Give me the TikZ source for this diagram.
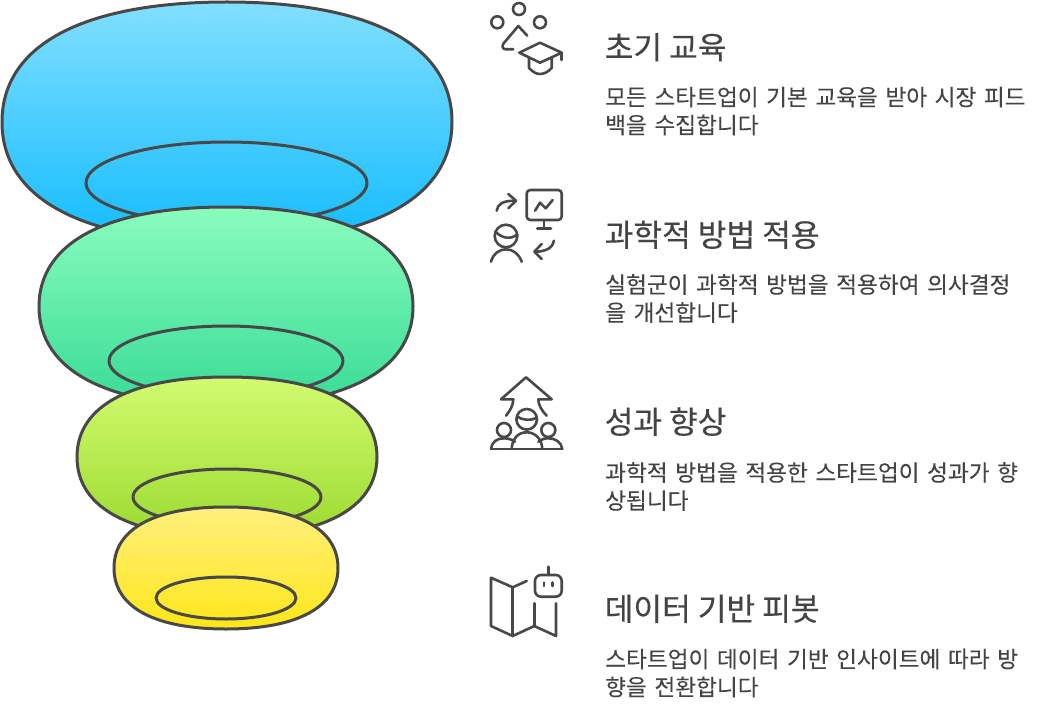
\documentclass[tikz,border=0pt]{standalone}
\usepackage{fontspec}
\setmainfont{Noto Sans CJK KR}
\newfontfamily\ttlfont[FakeBold=0.3]{Noto Sans CJK KR}
\newfontfamily\dscfont[FakeBold=0.12]{Noto Sans CJK KR}
\definecolor{ink}{HTML}{484848}
\definecolor{txt}{HTML}{444444}
\definecolor{b1}{HTML}{82DFFF}\definecolor{b2}{HTML}{14BCFF}
\definecolor{g1}{HTML}{8AFCBE}\definecolor{g2}{HTML}{38DB96}
\definecolor{l1}{HTML}{D2FB70}\definecolor{l2}{HTML}{9CDA30}
\definecolor{y1}{HTML}{FFF07E}\definecolor{y2}{HTML}{FFE618}
\tikzset{x=1pt,y=-1pt,
 outl/.style={draw=ink,line width=3pt,line join=round},
 ico/.style={draw=ink,line width=2.6pt,line cap=round,line join=round},
 ttl/.style={anchor=base west,inner sep=0pt,text=txt,font=\ttlfont\fontsize{31.2}{34}\selectfont},
 dsc/.style={anchor=base west,inner sep=0pt,text=txt,align=left,font=\dscfont\fontsize{22.65}{28}\selectfont,text width=430pt}}
\newcommand{\blobpath}[4]{(#1-#3,#2) .. controls (#1-#3,#2-0.66*#4) and (#1-0.62*#3,#2-#4) .. (#1,#2-#4) .. controls (#1+0.62*#3,#2-#4) and (#1+#3,#2-0.66*#4) .. (#1+#3,#2) .. controls (#1+#3,#2+0.66*#4) and (#1+0.62*#3,#2+#4) .. (#1,#2+#4) .. controls (#1-0.62*#3,#2+#4) and (#1-#3,#2+0.66*#4) .. (#1-#3,#2) -- cycle}
\begin{document}
\begin{tikzpicture}
\useasboundingbox (0,0) rectangle (1044,714);
% funnel
\path[outl,top color=b1,bottom color=b2] \blobpath{227}{122}{225}{120};
\draw[outl] (226.5,183) ellipse [x radius=140.5,y radius=41];
\path[outl,top color=g1,bottom color=g2] \blobpath{226}{306.5}{187}{99.5};
\draw[outl] (226,361) ellipse [x radius=117,y radius=35];
\path[outl,top color=l1,bottom color=l2] \blobpath{227}{457}{150}{80};
\draw[outl] (227,497) ellipse [x radius=94,y radius=28];
\path[outl,top color=y1,bottom color=y2] \blobpath{226}{568}{112}{61};
\draw[outl] (226,598) ellipse [x radius=70,y radius=21];
% text
\node[ttl] (t1) at (604.5,59) {초기 교육};
\node[dsc] (d1) at (605,105.5) {모든 스타트업이 기본 교육을 받아 시장 피드\\백을 수집합니다};
\node[ttl] (t2) at (604.5,246.5) {과학적 방법 적용};
\node[dsc] (d2) at (605,293) {실험군이 과학적 방법을 적용하여 의사결정\\을 개선합니다};
\node[ttl] (t3) at (604.5,433.5) {성과 향상};
\node[dsc] (d3) at (605,481) {과학적 방법을 적용한 스타트업이 성과가 향\\상됩니다};
\node[ttl] (t4) at (604.5,620.5) {데이터 기반 피봇};
\node[dsc] (d4) at (605,667.5) {스타트업이 데이터 기반 인사이트에 따라 방\\향을 전환합니다};
% icon 1: cap and circles
\draw[ico] (519,9) circle (6) (497.3,22.3) circle (6) (540,22.3) circle (6);
\draw[ico] (527.3,35.7) -- (518.3,26) -- (503.5,43.5) .. controls (501.5,46.5) and (502.5,49.3) .. (506,49.3) -- (513.3,49.3);
\draw[ico] (519.3,52.7) -- (540,42.7) -- (561.7,52.7) -- (540,62.7) -- cycle;
\draw[ico] (561.7,52.7) -- (561.7,60);
\draw[ico] (529,57.5) -- (529,68) .. controls (533,72) and (536,74) .. (540,74) .. controls (544,74) and (548,72) .. (551.7,68) -- (551.7,57.5);
% icon 2: person and chart
\draw[ico] (496.7,210.7) .. controls (497.5,204) and (503,200.7) .. (515,200.7);
\draw[ico] (508.3,194) -- (516,200.7) -- (508.3,208.3);
\draw[ico,rounded corners=3.5pt] (526.7,190) rectangle (561.7,220);
\draw[ico] (544,220) -- (544,228.3) (537.3,228.3) -- (551,228.3);
\draw[ico] (535,210.7) -- (540,202.7) -- (545.7,208.3) -- (552.7,200);
\draw[ico] (506,236) circle (11.3);
\draw[ico] (495.7,232) .. controls (502,238) and (510,240) .. (517.3,234.5);
\draw[ico] (491,261.7) .. controls (493,254) and (499,249.3) .. (506,249.3) .. controls (513,249.3) and (519,254) .. (521.7,261.7);
\draw[ico] (554,240.7) .. controls (553,247) and (547,251.7) .. (535,251.7);
\draw[ico] (541.7,244) -- (534.3,251.7) -- (541.7,259);
% icon 3: group and arrow
\draw[ico] (513.3,399.3) -- (501,399.3) -- (526,377.3) -- (551.7,399.3) -- (538.3,399.3);
\draw[ico] (513.3,399.3) .. controls (513.3,405) and (510,411) .. (506,415.7);
\draw[ico] (538.3,399.3) .. controls (538.3,405) and (542,411) .. (546.7,415.7);
\draw[ico] (526.7,419.3) circle (10.3);
\draw[ico] (517,416.5) .. controls (522,420) and (530,421) .. (536.5,418);
\draw[ico] (504,430) circle (7) (548.3,430) circle (7);
\draw[ico] (491,449) -- (562.3,449);
\draw[ico] (511.7,449) .. controls (512,439) and (518,432.3) .. (526.7,432.3) .. controls (535,432.3) and (542,439) .. (542.3,449);
\draw[ico] (491,449) .. controls (491.5,442) and (497,438.3) .. (504,438.3) .. controls (508,438.3) and (512,439.5) .. (515,441.7);
\draw[ico] (562.3,449) .. controls (561.5,442) and (555,438.3) .. (548.3,438.3) .. controls (544,438.3) and (541,439.5) .. (538.3,441.7);
% icon 4: map and robot
\draw[ico] (526.7,581) -- (512.7,587.3) -- (491,577.7) -- (491,626) -- (512.7,636) -- (534.3,626) -- (556,636) -- (556,603.3);
\draw[ico] (512.7,587.3) -- (512.7,636) (534.3,626) -- (534.3,603.3);
\draw[ico,rounded corners=6pt] (535,575) rectangle (561.7,596.7);
\draw[ico] (548.3,566.7) -- (548.3,575);
\draw[ico] (544,582.5) -- (544,586) (552.7,582.5) -- (552.7,586);
\end{tikzpicture}
\end{document}
